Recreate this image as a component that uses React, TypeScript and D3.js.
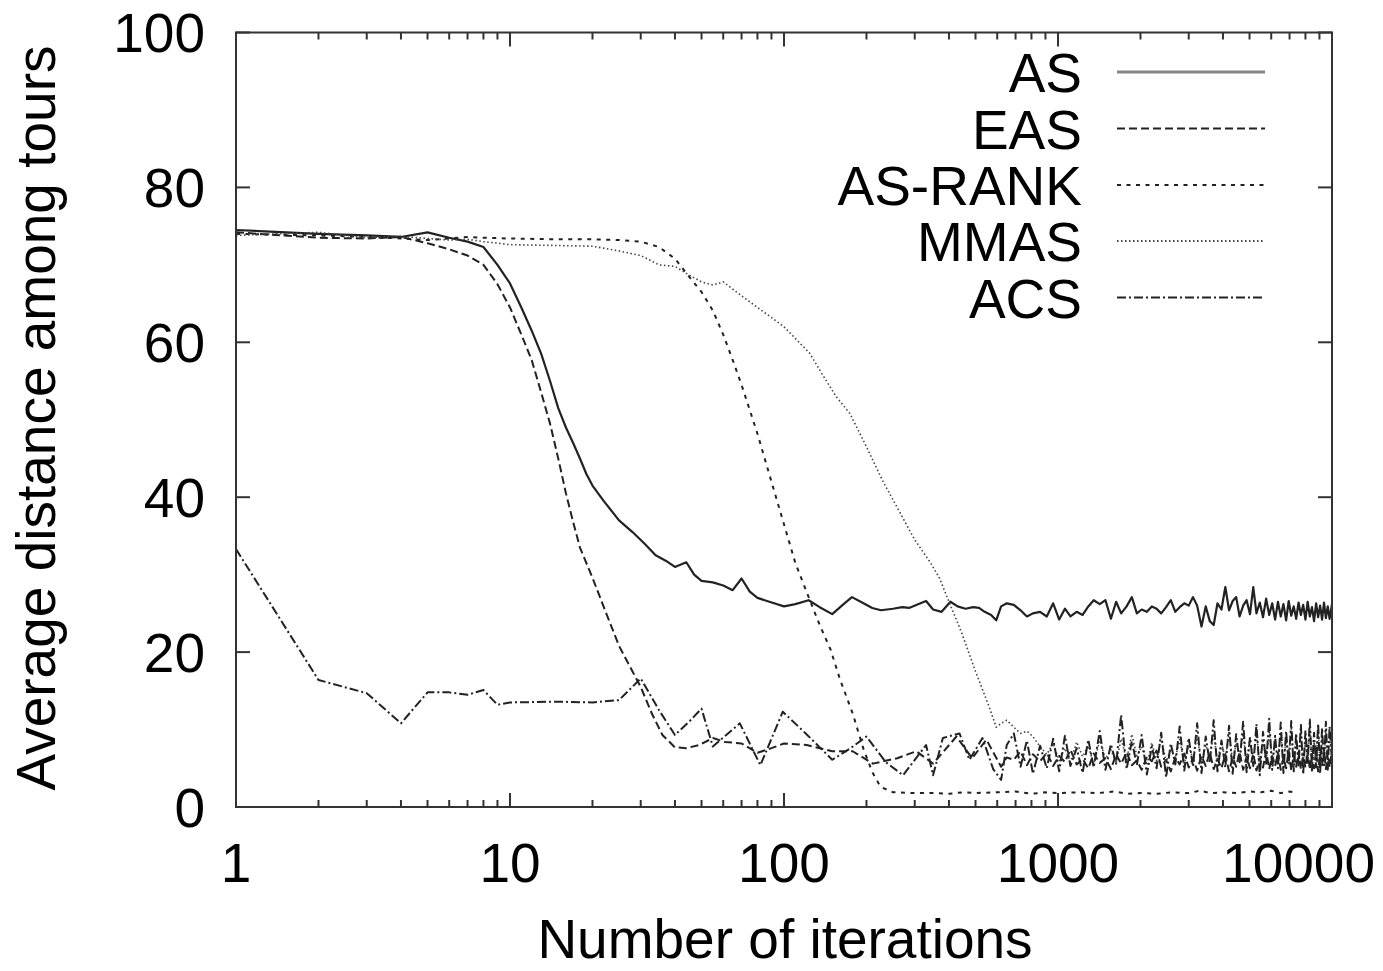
import React from 'react';
import * as d3 from 'd3';

const W = 1383;
const H = 971;

// early part of each run: [iteration, average distance]
const asHead: [number, number][] = [
  [1, 74.5], [2, 74], [3, 73.8], [4, 73.6], [5, 74.2], [6, 73.5], [7, 73], [8, 72.3], [9, 70], [10, 67.6],
  [11, 64.5], [12, 61.5], [13, 58.5], [14, 55], [15, 51.5], [16, 49], [17, 47], [18, 45], [19, 43], [20, 41.5],
  [22, 39.5], [25, 37], [28, 35.5], [31, 34], [34, 32.5], [37, 31.8], [40, 31], [44, 31.6], [47, 30], [50, 29.2],
  [55, 29], [60, 28.6], [65, 28], [70, 29.5], [75, 27.8], [80, 27], [85, 26.7], [92, 26.3], [100, 25.9], [110, 26.2],
  [123, 26.7], [135, 25.8], [150, 24.9], [165, 26.2], [177, 27.1], [195, 26.3], [210, 25.7], [226, 25.4], [250, 25.6],
  [270, 25.8], [286, 25.7], [310, 26.2], [330, 26.6], [350, 25.5], [376, 25.2], [405, 26.5], [430, 25.9], [460, 25.6],
  [490, 25.8], [515, 25.7], [540, 25.2], [570, 24.8], [595, 24.1],
];

const easHead: [number, number][] = [
  [1, 74.2], [2, 73.5], [3, 73.4], [4, 73.6], [5, 72.8], [6, 72.0], [7, 71.2], [8, 70.0], [9, 67.5], [10, 64.5],
  [11, 61], [12, 57.7], [13, 53.5], [14, 49.5], [15, 45], [16, 40.5], [17, 36.8], [18, 33.5], [20, 29.6], [22, 25.8],
  [25, 20.8], [28, 17.5], [30, 15.5], [33, 12], [36, 9.3], [40, 7.7], [44, 7.6], [49, 8.0], [55, 8.9], [61, 8.4],
  [70, 8.2], [80, 7.0], [90, 7.6], [100, 8.2], [121, 8.0], [150, 7.2], [178, 7.2], [211, 5.6], [259, 6.3], [304, 7.2],
  [350, 5.6], [426, 9.1], [486, 6.3], [548, 8.7],
];

const rankHead: [number, number][] = [
  [1, 74], [2, 73.8], [3, 73.6], [4, 73.4], [5, 73.2], [6, 73.4], [7, 73.6], [8, 73.5], [10, 73.4], [15, 73.3],
  [20, 73.3], [25, 73.2], [30, 73.0], [35, 72.3], [40, 70.8], [45, 68.5], [50, 66.5], [55, 64.1], [60, 61], [65, 57.7],
  [70, 54.5], [80, 48.2], [90, 42], [100, 36.5], [110, 31.5], [123, 27.1], [135, 23.5], [148, 20.3], [160, 16.5],
  [178, 12.1], [195, 7.5], [210, 4.5], [225, 2.6], [250, 1.9], [300, 1.8], [350, 1.8], [400, 1.7], [450, 1.9],
  [500, 1.8], [600, 1.9], [700, 2.0], [800, 1.7], [900, 1.9], [1000, 1.8], [1200, 1.9], [1400, 1.8], [1600, 2.0],
  [1800, 1.7], [2000, 1.8], [2300, 1.7], [2600, 1.9], [3000, 1.8], [3300, 2.1], [3600, 1.8], [4000, 1.9], [4500, 1.8],
  [5000, 2.0], [5500, 1.9], [6000, 2.1], [6500, 1.8], [7000, 2.0], [7300, 1.9],
];

const mmasHead: [number, number][] = [
  [1, 73.8], [2, 74.2], [3, 73.5], [4, 73.7], [5, 73.4], [6, 73.2], [7, 73.3], [8, 73.0], [9, 72.8], [10, 72.6],
  [15, 72.5], [20, 72.4], [25, 71.8], [30, 71.2], [35, 70.0], [40, 69.8], [45, 68.7], [50, 67.8], [55, 67.4], [60, 67.8],
  [70, 66], [80, 64.5], [90, 63.2], [100, 62], [110, 60.5], [124, 58.6], [140, 55.5], [155, 53], [174, 50.8], [200, 46.5],
  [230, 42], [266, 37.9], [300, 34.5], [343, 31.5], [370, 29.5], [400, 26.5], [445, 22.5], [500, 17.5], [560, 13],
  [595, 10.3],
];

const acsHead: [number, number][] = [
  [1, 33.3], [2, 16.4], [3, 14.7], [4, 10.8], [5, 14.8], [6, 14.8], [7, 14.5], [8, 15.1], [9, 13.2], [10, 13.5],
  [15, 13.6], [20, 13.5], [25, 13.8], [30, 16.6], [35, 12.5], [40, 9.3], [45, 11], [50, 12.7], [55, 7.8], [62, 9.4],
  [69, 10.8], [82, 5.4], [99, 12.3], [120, 9.5], [150, 6.1], [175, 7.6], [200, 9.1], [235, 5.8], [272, 4.1], [330, 8.0],
  [350, 4.1], [380, 8.9], [437, 9.5], [475, 6.1], [530, 8.9], [580, 4.9],
];

// noisy tail, shared iteration grid
const tailIters = [
  620, 650, 690, 730, 770, 810, 860, 910, 960, 1010,
  1060, 1110, 1170, 1230, 1290, 1350, 1420, 1490, 1560, 1630,
  1700, 1780, 1860, 1940, 2020, 2110, 2200, 2290, 2380, 2480,
  2580, 2680, 2780, 2890, 3000, 3110, 3220, 3340, 3460, 3580,
  3700, 3820, 3950, 4080, 4210, 4340, 4470, 4600, 4740, 4880,
  5020, 5160, 5300, 5450, 5600, 5750, 5900, 6050, 6200, 6350,
  6500, 6650, 6800, 6950, 7100, 7250, 7400, 7550, 7700, 7850,
  8000, 8150, 8300, 8450, 8600, 8750, 8900, 9050, 9200, 9350,
  9500, 9650, 9800, 10000,
];

const asTail = [
  25.9, 26.3, 26.1, 25.4, 24.6, 25.0, 25.2, 24.6, 26.3, 24.2,
  25.6, 24.6, 25.2, 24.8, 25.9, 26.7, 26.2, 26.7, 24.3, 26.5,
  25.0, 25.9, 27.1, 25.0, 25.5, 25.2, 25.9, 25.6, 25.0, 25.8,
  26.7, 25.2, 25.8, 26.3, 26.0, 27.1, 26.0, 23.3, 25.9, 24.0,
  23.5, 26.3, 25.5, 28.4, 25.4, 26.6, 27.1, 24.6, 26.0, 26.7,
  24.9, 28.4, 25.0, 26.4, 24.5, 26.9, 24.8, 26.3, 24.2, 26.5,
  24.6, 26.2, 24.1, 26.6, 24.7, 25.9, 24.3, 26.4, 24.8, 26.1,
  24.2, 26.5, 24.6, 25.8, 24.0, 26.3, 24.5, 26.0, 24.2, 26.4,
  24.4, 25.9, 24.3, 26.2,
];

const easTail = [
  5.2, 6.4, 6.1, 7.2, 5.4, 6.8, 5.9, 7.0, 5.3, 6.6,
  5.8, 7.4, 5.5, 6.2, 5.0, 6.9, 5.7, 6.3, 4.9, 6.8,
  5.6, 7.1, 5.4, 6.0, 4.8, 6.5, 5.9, 7.3, 5.2, 6.1,
  4.6, 6.4, 5.5, 6.9, 5.1, 6.3, 4.7, 6.6, 5.3, 7.0,
  4.9, 6.2, 5.0, 6.8, 4.6, 6.4, 5.2, 7.1, 4.8, 6.5,
  5.0, 6.9, 4.7, 6.3, 5.1, 7.2, 4.9, 6.6, 5.3, 7.0,
  4.8, 6.4, 5.0, 7.3, 4.7, 6.7, 5.2, 7.1, 4.9, 6.5,
  5.1, 7.4, 4.8, 6.8, 5.0, 7.2, 4.6, 6.9, 5.3, 7.5,
  4.9, 7.0, 5.1, 7.3,
];

const mmasTail = [
  10.8, 11.2, 10.3, 9.5, 9.8, 9.1, 7.8, 6.8, 8.2, 6.0,
  7.6, 5.8, 8.4, 6.5, 7.9, 5.5, 8.6, 6.2, 7.4, 5.7,
  8.8, 6.1, 9.4, 6.6, 7.8, 5.4, 8.3, 6.0, 9.0, 5.8,
  7.5, 6.3, 8.7, 5.6, 7.9, 6.2, 9.2, 5.5, 8.0, 6.4,
  9.5, 5.9, 8.4, 6.1, 9.8, 5.7, 8.2, 6.5, 9.3, 5.8,
  8.9, 6.2, 9.6, 5.5, 8.5, 6.0, 9.9, 5.9, 8.3, 6.3,
  9.4, 5.7, 8.8, 6.1, 10.1, 5.8, 8.6, 6.4, 9.7, 5.6,
  8.9, 6.0, 10.3, 5.9, 8.4, 6.2, 9.8, 5.7, 9.1, 6.3,
  10.0, 5.8, 9.4, 6.6,
];

const acsTail = [
  3.5, 8.0, 9.5, 5.2, 8.6, 4.3, 7.9, 5.0, 8.8, 4.6,
  9.2, 5.3, 7.6, 4.4, 8.7, 5.1, 9.8, 4.8, 8.1, 5.6,
  11.9, 4.9, 8.5, 5.4, 9.3, 4.2, 7.8, 5.0, 9.6, 3.8,
  8.2, 5.5, 10.4, 4.7, 8.9, 5.2, 10.8, 4.4, 9.1, 5.7,
  11.2, 4.6, 8.6, 5.1, 10.5, 4.3, 9.4, 5.8, 11.0, 4.5,
  9.0, 5.3, 10.7, 4.1, 9.7, 5.6, 11.4, 4.8, 9.2, 5.0,
  10.9, 4.4, 9.8, 5.5, 11.1, 4.6, 9.5, 5.2, 10.6, 4.2,
  9.9, 5.7, 11.3, 4.7, 9.6, 5.1, 10.8, 4.3, 10.2, 5.4,
  11.0, 4.8, 10.4, 6.0,
];

const withTail = (head: [number, number][], tail: number[]) =>
  head.concat(tailIters.map((it, i) => [it, tail[i]] as [number, number]));

const series = [
  { name: 'AS', data: withTail(asHead, asTail), dash: '', width: 2.2, color: '#222', legendColor: '#888', legendWidth: 3 },
  { name: 'EAS', data: withTail(easHead, easTail), dash: '8,4', width: 2, color: '#222', legendColor: '#222', legendWidth: 2 },
  { name: 'AS-RANK', data: rankHead, dash: '4,5.5', width: 2, color: '#222', legendColor: '#222', legendWidth: 2 },
  { name: 'MMAS', data: withTail(mmasHead, mmasTail), dash: '1.5,2.5', width: 1.6, color: '#444', legendColor: '#444', legendWidth: 2 },
  { name: 'ACS', data: withTail(acsHead, acsTail), dash: '9,3,2,3', width: 2, color: '#222', legendColor: '#222', legendWidth: 2 },
];

const yTicks = [0, 20, 40, 60, 80, 100];
const xLabels = [1, 10, 100, 1000, 10000];

const FONT = '"Liberation Sans", Arial, Helvetica, sans-serif';

export default function App() {
  const left = 236, right = 1332, top = 32.5, bottom = 807;
  const x = d3.scaleLog().domain([1, 10000]).range([left, right]);
  const y = d3.scaleLinear().domain([0, 100]).range([bottom, top]);

  const line = d3.line<[number, number]>()
    .x(d => x(d[0]))
    .y(d => y(d[1]));

  const xTicks = x.ticks();
  const isMajor = (v: number) => Math.abs(Math.log10(v) - Math.round(Math.log10(v))) < 1e-9;

  const legendY = [72, 128.5, 185, 241, 297.5];

  return (
    <div style={{ position: 'absolute', left: 0, top: 0 }}>
      <svg width={W} height={H} style={{ display: 'block', background: '#fff' }} fontFamily={FONT}>
        <defs>
          <clipPath id="plot">
            <rect x={left} y={top} width={right - left} height={bottom - top} />
          </clipPath>
        </defs>

        {/* series */}
        <g clipPath="url(#plot)" fill="none" strokeLinejoin="round">
          {series.map(s => (
            <path key={s.name} d={line(s.data) || ''} stroke={s.color} strokeWidth={s.width}
              strokeDasharray={s.dash || undefined} />
          ))}
        </g>

        {/* frame and ticks */}
        <g stroke="#333" strokeWidth={2}>
          <rect x={left} y={top} width={right - left} height={bottom - top} fill="none" />
          {xTicks.map(v => {
            const len = isMajor(v) ? 14 : 7;
            return (
              <g key={'xt' + v}>
                <line x1={x(v)} x2={x(v)} y1={bottom} y2={bottom - len} />
                <line x1={x(v)} x2={x(v)} y1={top} y2={top + len} />
              </g>
            );
          })}
          {yTicks.map(v => (
            <g key={'yt' + v}>
              <line x1={left} x2={left + 14} y1={y(v)} y2={y(v)} />
              <line x1={right} x2={right - 14} y1={y(v)} y2={y(v)} />
            </g>
          ))}
        </g>

        {/* tick labels */}
        <g fontSize={55} fill="#000">
          {yTicks.map(v => (
            <text key={'yl' + v} x={205} y={y(v) + 19.5} textAnchor="end">{v}</text>
          ))}
          {xLabels.map((v, i) => {
            const last = i === xLabels.length - 1;
            return (
              <text key={'xl' + v} x={last ? W - 8 : x(v)} y={882} textAnchor={last ? 'end' : 'middle'}>{v}</text>
            );
          })}
          <text x={785} y={958} textAnchor="middle">Number of iterations</text>
          <text transform="translate(55,418) rotate(-90)" textAnchor="middle">Average distance among tours</text>
        </g>

        {/* legend */}
        <g fontSize={55} fill="#000">
          {series.map((s, i) => (
            <g key={'lg' + s.name}>
              <text x={1082} y={legendY[i] + 20} textAnchor="end">{s.name}</text>
              <line x1={1117} x2={1265} y1={legendY[i]} y2={legendY[i]} stroke={s.legendColor}
                strokeWidth={s.legendWidth} strokeDasharray={s.dash || undefined} />
            </g>
          ))}
        </g>
      </svg>
    </div>
  );
}
